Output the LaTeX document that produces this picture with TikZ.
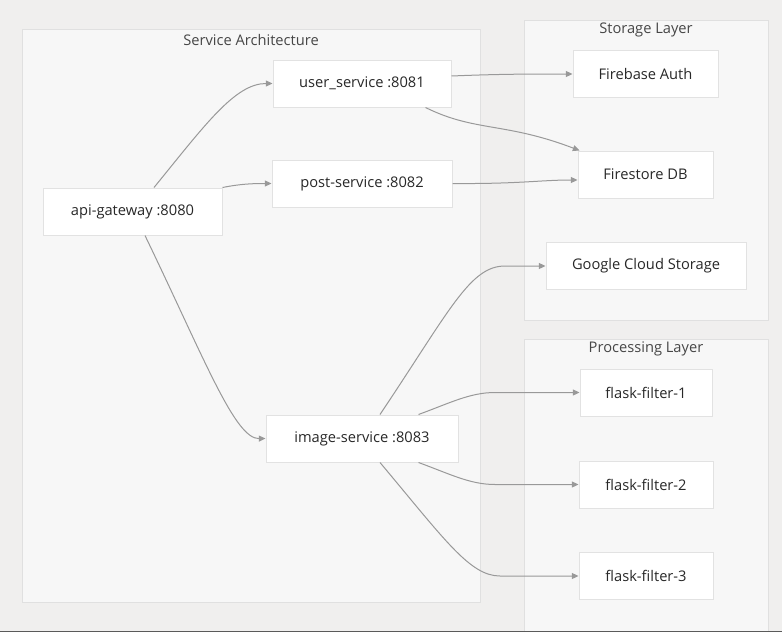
\documentclass[tikz,border=0pt]{standalone}
\usepackage{fontspec}
\setmainfont{Open Sans}
\usetikzlibrary{arrows.meta,calc}

\definecolor{pagebg}{RGB}{240,239,238}
\definecolor{groupfill}{RGB}{247,247,247}
\definecolor{groupline}{RGB}{224,224,224}
\definecolor{boxline}{RGB}{226,226,226}
\definecolor{wire}{RGB}{153,153,153}
\definecolor{ink}{RGB}{40,40,40}
\definecolor{titleink}{RGB}{70,70,70}

\tikzset{every picture/.style={line width=0.75pt}}
\tikzset{
  svcbox/.style={draw=boxline, fill=white, line width=0.75pt, minimum height=35.25pt,
    inner sep=0.75pt, text=ink, font=\fontsize{11}{13}\selectfont},
  grouptitle/.style={inner sep=0.75pt, text=titleink, font=\fontsize{11}{13}\selectfont},
  wireline/.style={draw=wire, line width=0.75pt, -{Triangle[length=5pt,width=4.5pt]}}
}

\begin{document}
\begin{tikzpicture}[x=0.75pt,y=0.75pt,yscale=-1,xscale=1]
\useasboundingbox (0,0) rectangle (782,632);
\fill[pagebg] (0,0) rectangle (782,632);

%Shape: Rectangle [id:service group]
\draw[groupline, fill=groupfill] (22,29) rectangle (480,602);
%Shape: Rectangle [id:storage group]
\draw[groupline, fill=groupfill] (524,20) rectangle (768,320);
%Shape: Rectangle [id:processing group]
\draw[groupline, fill=groupfill] (524,339) rectangle (768,640);
%Straight Lines [id:bottom rule]
\draw[line width=1.2pt, color={rgb, 255:red, 90; green, 90; blue, 90}] (0,631.4) -- (782,631.4);

% Text Node
\draw (251,40) node [grouptitle] (titleSvc) {Service Architecture};
% Text Node
\draw (646,30) node [grouptitle] (titleStore) {Storage Layer};
% Text Node
\draw (646,349) node [grouptitle] (titleProc) {Processing Layer};

% Service nodes
\node [svcbox, minimum width=134.25pt] (api) at (132.5,211.5) {api-gateway :8080};
\node [svcbox, minimum width=133.5pt] (user) at (362,83.5) {user\_service :8081};
\node [svcbox, minimum width=135pt] (post) at (362,183.5) {post-service :8082};
\node [svcbox, minimum width=144pt] (image) at (362,438.5) {image-service :8083};
% Storage nodes
\node [svcbox, minimum width=108.75pt] (auth) at (645.5,74) {Firebase Auth};
\node [svcbox, minimum width=101.25pt] (store) at (645.5,174.5) {Firestore DB};
\node [svcbox, minimum width=150pt] (gcs) at (646,266) {Google Cloud Storage};
% Processing nodes
\node [svcbox, minimum width=99pt] (ff1) at (646,392.5) {flask-filter-1};
\node [svcbox, minimum width=100.5pt] (ff2) at (646,484.5) {flask-filter-2};
\node [svcbox, minimum width=100.5pt] (ff3) at (646,576) {flask-filter-3};

%Curve Lines [id:gateway out]
\draw[wireline] ($(api.north)+(21.5,0)$) .. controls (205,125) and (235,83.5) .. (user.west);
\draw[wireline] (api.north east) .. controls (240,184) and (252,183.5) .. (post.west);
\draw[wireline] ($(api.south)+(12.5,0)$) .. controls (205,360) and (235,439) .. (image.west);
%Curve Lines [id:user out]
\draw[wireline] ($(user.east)+(0,-7.5)$) .. controls (500,74) and (530,74) .. (auth.west);
\draw[wireline] ($(user.south east)+(-26,0)$) .. controls (475,132) and (505,122) .. ($(store.north west)+(2,0)$);
%Curve Lines [id:post out]
\draw[wireline] (post.east) .. controls (520,184) and (540,180) .. ($(store.west)+(0,5.5)$);
%Curve Lines [id:image out]
\draw[wireline] ($(image.north)+(18,0)$) .. controls (450,310) and (470,266) .. (505,266) -- (gcs.west);
\draw[wireline] ($(image.north east)+(-40,0)$) .. controls (450,403) and (470,392.5) .. (495,392.5) -- (ff1.west);
\draw[wireline] ($(image.south east)+(-40,0)$) .. controls (450,474) and (470,484.5) .. (495,484.5) -- (ff2.west);
\draw[wireline] ($(image.south)+(18,0)$) .. controls (445,540) and (470,576) .. (500,576) -- (ff3.west);

\end{tikzpicture}
\end{document}
